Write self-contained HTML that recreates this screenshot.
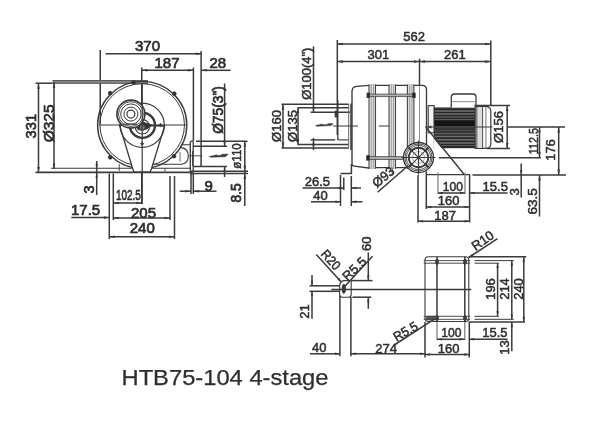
<!DOCTYPE html>
<html><head><meta charset="utf-8"><title>HTB75-104 4-stage</title>
<style>
html,body{margin:0;padding:0;background:#fff;}
body{width:600px;height:425px;overflow:hidden;}
svg{display:block;}
svg line,svg path,svg circle,svg ellipse,svg rect{stroke:#3a3a3a;}
svg text{font-family:"Liberation Sans",sans-serif;fill:#2e2e2e;stroke:#2e2e2e;stroke-width:0.7;}
</style></head>
<body>
<svg width="600" height="425" viewBox="0 0 600 425">
<defs><filter id="soft" x="-2%" y="-2%" width="104%" height="104%"><feGaussianBlur stdDeviation="0.7"/></filter></defs>
<rect x="0" y="0" width="600" height="425" fill="#fff" stroke="none" style="stroke:none"/>
<g filter="url(#soft)" stroke-linecap="butt">
<line x1="100.25" y1="50" x2="100.25" y2="124" stroke-width="1.5"/>
<line x1="105.6" y1="53.75" x2="201.3" y2="53.75" stroke-width="1.5"/>
<polygon points="201.30,53.75 195.80,55.05 195.80,52.45" fill="#3a3a3a" stroke="none"/>
<line x1="201.1" y1="51" x2="201.1" y2="166.4" stroke-width="1.5"/>
<text transform="translate(135,50.7)" font-size="15" text-anchor="start">370</text>
<line x1="141.75" y1="67.5" x2="141.75" y2="204" stroke-width="1.5"/>
<line x1="141.75" y1="70.3" x2="193.4" y2="70.3" stroke-width="1.5"/>
<polygon points="141.75,70.30 147.25,69.00 147.25,71.60" fill="#3a3a3a" stroke="none"/>
<polygon points="193.40,70.30 187.90,71.60 187.90,69.00" fill="#3a3a3a" stroke="none"/>
<line x1="193.4" y1="67.5" x2="193.4" y2="141" stroke-width="1.5"/>
<text transform="translate(154.5,68)" font-size="15" text-anchor="start">187</text>
<line x1="201.3" y1="70.3" x2="230.6" y2="70.3" stroke-width="1.5"/>
<polygon points="201.30,70.30 206.80,69.00 206.80,71.60" fill="#3a3a3a" stroke="none"/>
<text transform="translate(209.5,67.5)" font-size="15" text-anchor="start">28</text>
<line x1="52.5" y1="81.9" x2="148" y2="81.9" stroke-width="2.6" style="stroke:#8c8c8c"/>
<line x1="52.5" y1="80.6" x2="148" y2="80.6" stroke-width="0.9" style="stroke:#444"/>
<line x1="52.5" y1="83.3" x2="148" y2="83.3" stroke-width="0.9" style="stroke:#444"/>
<line x1="35.5" y1="83.2" x2="52.5" y2="83.2" stroke-width="1.5"/>
<line x1="38.5" y1="83.2" x2="38.5" y2="172.5" stroke-width="1.5"/>
<polygon points="38.50,83.20 39.80,88.70 37.20,88.70" fill="#3a3a3a" stroke="none"/>
<polygon points="38.50,172.50 37.20,167.00 39.80,167.00" fill="#3a3a3a" stroke="none"/>
<line x1="54" y1="82" x2="54" y2="169" stroke-width="1.5"/>
<polygon points="54.00,82.50 55.30,88.00 52.70,88.00" fill="#3a3a3a" stroke="none"/>
<polygon points="54.00,169.00 52.70,163.50 55.30,163.50" fill="#3a3a3a" stroke="none"/>
<text transform="translate(35.6,126.2) rotate(-90) scale(0.95,1)" font-size="15.5" text-anchor="middle">331</text>
<text transform="translate(54,123.4) rotate(-90)" font-size="15.5" text-anchor="middle">Ø325</text>
<line x1="51" y1="168.3" x2="190" y2="168.3" stroke-width="1.1"/>
<line x1="35.5" y1="172.4" x2="190" y2="172.4" stroke-width="1.6"/>
<ellipse cx="142.2" cy="124.9" rx="44.6" ry="43.5" stroke-width="1.4" fill="none"/>
<ellipse cx="142.2" cy="124.9" rx="42.3" ry="41.2" stroke-width="1.0" fill="none"/>
<circle cx="110.2" cy="93.2" r="1.9" stroke-width="0.8" fill="#333"/>
<circle cx="174.3" cy="93.7" r="1.9" stroke-width="0.8" fill="#333"/>
<circle cx="110.2" cy="157.3" r="1.9" stroke-width="0.8" fill="#333"/>
<circle cx="174" cy="156.2" r="1.9" stroke-width="0.8" fill="#333"/>
<circle cx="133.5" cy="82.5" r="1.9" stroke-width="0.8" fill="#333"/>
<path d="M119.5,125 L132.7,168.7 L134,172 L150,172 L151.5,168.7 L164.6,126 Z" stroke-width="1.3" fill="#fff"/>
<line x1="98.5" y1="125" x2="186" y2="125" stroke-width="1.2"/>
<circle cx="142.2" cy="125.3" r="22.1" stroke-width="1.2" fill="none"/>
<circle cx="142.4" cy="125.3" r="12.6" stroke-width="2.4" fill="none"/>
<circle cx="142.4" cy="126.8" r="7.2" stroke-width="1.1" fill="none"/>
<path d="M135.5,126.5 L141,121.5 L152.3,125 L146,129.5 L138.5,130 Z" stroke-width="0.8" fill="#333"/>
<circle cx="142.3" cy="127.5" r="3.0" stroke-width="0.9" fill="#777"/>
<path d="M160.5,123.3 L162.2,125 L160.5,126.7 L158.8,125 Z" stroke-width="0.6" fill="#3a3a3a"/>
<path d="M142.2,142 L143.9,143.7 L142.2,145.4 L140.5,143.7 Z" stroke-width="0.6" fill="#3a3a3a"/>
<circle cx="130.9" cy="114.1" r="14.0" stroke-width="1.6" fill="#fff"/>
<circle cx="130.9" cy="114.1" r="12.4" stroke-width="0.9" fill="none"/>
<circle cx="130.9" cy="114.1" r="10.2" stroke-width="1.0" fill="none"/>
<circle cx="130.9" cy="114.1" r="7.0" stroke-width="1.0" fill="none"/>
<circle cx="130.9" cy="114.1" r="4.0" stroke-width="1.2" fill="none"/>
<line x1="123" y1="124.3" x2="137" y2="124.3" stroke-width="1.6" style="stroke:#555"/>
<line x1="142.2" y1="84" x2="142.2" y2="204" stroke-width="1.2"/>
<path d="M153.5,164.3 L182,164.2 C186.5,163.5 188.4,159.5 188.3,155.5 C188.1,151 185.5,148 181.2,147.6 M182.4,144.7 L190.3,144.7" stroke-width="1.1" fill="none"/>
<line x1="180" y1="151.8" x2="180" y2="161.8" stroke-width="1.2" style="stroke:#888"/>
<rect x="190.3" y="141.2" width="2.9" height="31.2" rx="1.2" stroke-width="1.3" fill="none"/>
<line x1="196" y1="141.2" x2="247.5" y2="141.2" stroke-width="1.5"/>
<line x1="193.3" y1="146.2" x2="227" y2="146.2" stroke-width="1.5"/>
<line x1="193.3" y1="166.4" x2="227" y2="166.4" stroke-width="1.5"/>
<line x1="190" y1="171.3" x2="248" y2="171.3" stroke-width="1.6"/>
<line x1="190" y1="173.5" x2="248" y2="173.5" stroke-width="1.5"/>
<line x1="224.6" y1="83.5" x2="224.6" y2="146.2" stroke-width="1.5"/>
<polygon points="224.60,146.20 223.30,140.70 225.90,140.70" fill="#3a3a3a" stroke="none"/>
<line x1="224.6" y1="166.4" x2="224.6" y2="177" stroke-width="1.5"/>
<polygon points="224.60,166.40 225.90,171.90 223.30,171.90" fill="#3a3a3a" stroke="none"/>
<text transform="translate(222.7,110) rotate(-90) scale(0.95,1)" font-size="14.5" text-anchor="middle">Ø75(3&quot;)</text>
<line x1="244.8" y1="141.2" x2="244.8" y2="206" stroke-width="1.5"/>
<polygon points="244.80,141.20 246.10,146.70 243.50,146.70" fill="#3a3a3a" stroke="none"/>
<polygon points="244.80,171.30 243.50,165.80 246.10,165.80" fill="#3a3a3a" stroke="none"/>
<polygon points="244.80,173.40 246.10,178.90 243.50,178.90" fill="#3a3a3a" stroke="none"/>
<text transform="translate(241.3,156) rotate(-90) scale(0.86,1)" font-size="13.5" text-anchor="middle" style="stroke-width:0.5">ø110</text>
<text transform="translate(240.5,193) rotate(-90) scale(0.95,1)" font-size="14.5" text-anchor="middle">8.5</text>
<line x1="192.5" y1="151" x2="192.5" y2="166" stroke-width="0.9"/>
<line x1="189.5" y1="155.8" x2="202.2" y2="155.8" stroke-width="0.9"/>
<path d="M209.2,156.6 L214,155.6 L216.5,154.7 L217.5,155.6 L221,155.2 L222,154.3 L228.3,154.1 L225.5,156.7 L211,157.3 Z" stroke-width="0.5" fill="#3a3a3a"/>
<line x1="191" y1="173" x2="191" y2="194" stroke-width="1.5"/>
<line x1="193.3" y1="173" x2="193.3" y2="194" stroke-width="1.5"/>
<line x1="179.7" y1="191.2" x2="191" y2="191.2" stroke-width="1.5"/>
<polygon points="191.00,191.20 185.50,192.50 185.50,189.90" fill="#3a3a3a" stroke="none"/>
<line x1="193.3" y1="191.2" x2="216.5" y2="191.2" stroke-width="1.5"/>
<polygon points="193.30,191.20 198.80,189.90 198.80,192.50" fill="#3a3a3a" stroke="none"/>
<text transform="translate(204.5,190.5)" font-size="15" text-anchor="start">9</text>
<line x1="96.7" y1="161" x2="96.7" y2="195" stroke-width="1.5"/>
<polygon points="96.70,169.00 95.50,164.00 97.90,164.00" fill="#3a3a3a" stroke="none"/>
<polygon points="96.70,172.50 97.90,177.50 95.50,177.50" fill="#3a3a3a" stroke="none"/>
<text transform="translate(94.3,189.5) rotate(-90)" font-size="14.5" text-anchor="middle">3</text>
<line x1="109.3" y1="173.5" x2="109.3" y2="239" stroke-width="1.5"/>
<line x1="113.3" y1="173.5" x2="113.3" y2="220" stroke-width="1.5"/>
<line x1="170" y1="176" x2="170" y2="220" stroke-width="1.5"/>
<line x1="174.5" y1="176" x2="174.5" y2="239" stroke-width="1.5"/>
<line x1="113.3" y1="203" x2="142.3" y2="203" stroke-width="1.5"/>
<polygon points="113.30,203.00 118.80,201.70 118.80,204.30" fill="#3a3a3a" stroke="none"/>
<polygon points="141.75,203.00 136.25,204.30 136.25,201.70" fill="#3a3a3a" stroke="none"/>
<text transform="translate(116,200) scale(0.66,1)" font-size="15" text-anchor="start">102.5</text>
<line x1="71.3" y1="217.6" x2="109.3" y2="217.6" stroke-width="1.5"/>
<polygon points="109.30,217.60 103.80,218.90 103.80,216.30" fill="#3a3a3a" stroke="none"/>
<text transform="translate(71,215)" font-size="15" text-anchor="start">17.5</text>
<line x1="113.3" y1="218" x2="170" y2="218" stroke-width="1.5"/>
<polygon points="113.30,218.00 118.80,216.70 118.80,219.30" fill="#3a3a3a" stroke="none"/>
<polygon points="170.00,218.00 164.50,219.30 164.50,216.70" fill="#3a3a3a" stroke="none"/>
<text transform="translate(131,217.5)" font-size="15" text-anchor="start">205</text>
<line x1="109.3" y1="236.8" x2="174.5" y2="236.8" stroke-width="1.5"/>
<polygon points="109.30,236.80 114.80,235.50 114.80,238.10" fill="#3a3a3a" stroke="none"/>
<polygon points="174.50,236.80 169.00,238.10 169.00,235.50" fill="#3a3a3a" stroke="none"/>
<text transform="translate(129.7,233.3)" font-size="15" text-anchor="start">240</text>
<line x1="119.2" y1="164" x2="119.2" y2="171" stroke-width="0.9"/>
<line x1="165" y1="168" x2="165" y2="172" stroke-width="0.9"/>
<line x1="337.3" y1="40" x2="337.3" y2="135" stroke-width="1.5"/>
<line x1="337.3" y1="44" x2="490.7" y2="44" stroke-width="1.5"/>
<polygon points="337.30,44.00 342.80,42.70 342.80,45.30" fill="#3a3a3a" stroke="none"/>
<polygon points="490.70,44.00 485.20,45.30 485.20,42.70" fill="#3a3a3a" stroke="none"/>
<line x1="490.8" y1="40.5" x2="490.8" y2="106" stroke-width="1.5"/>
<text transform="translate(403.3,41.3)" font-size="13" text-anchor="start" style="stroke-width:0.5">562</text>
<line x1="337.3" y1="61.6" x2="490.7" y2="61.6" stroke-width="1.5"/>
<polygon points="337.30,61.60 342.80,60.30 342.80,62.90" fill="#3a3a3a" stroke="none"/>
<polygon points="490.70,61.60 485.20,62.90 485.20,60.30" fill="#3a3a3a" stroke="none"/>
<polygon points="419.50,61.60 414.00,62.90 414.00,60.30" fill="#3a3a3a" stroke="none"/>
<polygon points="419.50,61.60 425.00,60.30 425.00,62.90" fill="#3a3a3a" stroke="none"/>
<line x1="419.5" y1="58.7" x2="419.5" y2="85.5" stroke-width="1.5"/>
<text transform="translate(367.5,58.8)" font-size="13" text-anchor="start" style="stroke-width:0.5">301</text>
<text transform="translate(444,59.3)" font-size="13" text-anchor="start" style="stroke-width:0.5">261</text>
<line x1="281.5" y1="104.2" x2="348.7" y2="104.2" stroke-width="1.5"/>
<line x1="297.5" y1="107.7" x2="348.7" y2="107.7" stroke-width="1.5"/>
<line x1="310.6" y1="112.2" x2="350" y2="112.2" stroke-width="1.4"/>
<line x1="310.6" y1="139.9" x2="335.3" y2="139.9" stroke-width="1.4"/>
<line x1="338" y1="139.9" x2="348.7" y2="139.9" stroke-width="1.1"/>
<line x1="297.5" y1="144.4" x2="348.7" y2="144.4" stroke-width="1.5"/>
<line x1="281.5" y1="147.9" x2="348.7" y2="147.9" stroke-width="1.5"/>
<line x1="283" y1="104.2" x2="283" y2="147.9" stroke-width="1.5"/>
<polygon points="283.00,104.20 284.30,109.70 281.70,109.70" fill="#3a3a3a" stroke="none"/>
<polygon points="283.00,147.90 281.70,142.40 284.30,142.40" fill="#3a3a3a" stroke="none"/>
<line x1="298" y1="107.7" x2="298" y2="144.4" stroke-width="1.5"/>
<polygon points="298.00,107.70 299.30,113.20 296.70,113.20" fill="#3a3a3a" stroke="none"/>
<polygon points="298.00,144.40 296.70,138.90 299.30,138.90" fill="#3a3a3a" stroke="none"/>
<text transform="translate(281,126) rotate(-90)" font-size="13" text-anchor="middle" style="stroke-width:0.5">Ø160</text>
<text transform="translate(296.7,126) rotate(-90)" font-size="13" text-anchor="middle" style="stroke-width:0.5">Ø135</text>
<line x1="313.5" y1="46.3" x2="313.5" y2="112.5" stroke-width="1.5"/>
<polygon points="313.50,112.20 312.20,106.70 314.80,106.70" fill="#3a3a3a" stroke="none"/>
<line x1="313.5" y1="138" x2="313.5" y2="150" stroke-width="1.5"/>
<polygon points="313.50,139.90 314.80,145.40 312.20,145.40" fill="#3a3a3a" stroke="none"/>
<text transform="translate(311.3,73.7) rotate(-90)" font-size="13" text-anchor="middle" style="stroke-width:0.5">Ø100(4&quot;)</text>
<line x1="348.7" y1="104.2" x2="348.7" y2="148" stroke-width="1.0" style="stroke:#666"/>
<line x1="351" y1="103.6" x2="351" y2="150" stroke-width="1.5"/>
<line x1="337.8" y1="100" x2="337.8" y2="139.9" stroke-width="1.3"/>
<rect x="335" y="111" width="2.4" height="6" rx="0" stroke-width="0.6" fill="#3a3a3a"/>
<path d="M315.5,125.6 L320,124.6 L322,123.9 L323,124.8 L327,124.4 L329,123.4 L333.2,123.8 L331,125.6 L317,126.3 Z" stroke-width="0.5" fill="#3a3a3a"/>
<line x1="333" y1="126" x2="358" y2="126" stroke-width="1.0"/>
<line x1="378.7" y1="126" x2="392.5" y2="126" stroke-width="1.0"/>
<path d="M408,167.6 L376,167.6 L368.5,168 L354.2,166.2 Q352,166 352,164 L352,91.5 Q352,86.6 356.6,86.3 L369,85.3 L422,85.3 Q426.5,85.3 426.5,90 L426.5,144" stroke-width="1.35" fill="none"/>
<rect x="369.3" y="84.4" width="6.2" height="84.4" fill="#dcdcdc" style="stroke:none"/>
<line x1="369.0" y1="84.4" x2="369.0" y2="168.8" stroke-width="1.1" style="stroke:#444"/>
<line x1="371.3" y1="84.4" x2="371.3" y2="168.8" stroke-width="0.7" style="stroke:#888"/>
<line x1="375.5" y1="84.4" x2="375.5" y2="168.8" stroke-width="1.1" style="stroke:#444"/>
<line x1="373.5" y1="84.4" x2="373.5" y2="168.8" stroke-width="0.7" style="stroke:#888"/>
<rect x="389.3" y="84.4" width="6.2" height="84.4" fill="#dcdcdc" style="stroke:none"/>
<line x1="389.0" y1="84.4" x2="389.0" y2="168.8" stroke-width="1.1" style="stroke:#444"/>
<line x1="391.3" y1="84.4" x2="391.3" y2="168.8" stroke-width="0.7" style="stroke:#888"/>
<line x1="395.5" y1="84.4" x2="395.5" y2="168.8" stroke-width="1.1" style="stroke:#444"/>
<line x1="393.5" y1="84.4" x2="393.5" y2="168.8" stroke-width="0.7" style="stroke:#888"/>
<rect x="407.7" y="84.4" width="6.2" height="84.4" fill="#dcdcdc" style="stroke:none"/>
<line x1="407.4" y1="84.4" x2="407.4" y2="168.8" stroke-width="1.1" style="stroke:#444"/>
<line x1="409.7" y1="84.4" x2="409.7" y2="168.8" stroke-width="0.7" style="stroke:#888"/>
<line x1="413.9" y1="84.4" x2="413.9" y2="168.8" stroke-width="1.1" style="stroke:#444"/>
<line x1="411.9" y1="84.4" x2="411.9" y2="168.8" stroke-width="0.7" style="stroke:#888"/>
<line x1="369" y1="95.3" x2="414" y2="95.3" stroke-width="2.2" style="stroke:#b0b0b0"/>
<line x1="369" y1="94.1" x2="414" y2="94.1" stroke-width="0.8" style="stroke:#444"/>
<line x1="369" y1="96.6" x2="414" y2="96.6" stroke-width="0.8" style="stroke:#444"/>
<line x1="369" y1="158" x2="405" y2="158" stroke-width="2.4" style="stroke:#b0b0b0"/>
<line x1="369" y1="156.6" x2="405" y2="156.6" stroke-width="0.8" style="stroke:#444"/>
<line x1="369" y1="159.5" x2="405" y2="159.5" stroke-width="0.8" style="stroke:#444"/>
<rect x="367" y="93" width="2.6" height="4.6" rx="0" stroke-width="0.8" fill="#222"/>
<rect x="366.7" y="155.6" width="2.6" height="4.6" rx="0" stroke-width="0.8" fill="#222"/>
<rect x="412.6" y="93" width="2.6" height="4.6" rx="0" stroke-width="0.8" fill="#222"/>
<line x1="419.5" y1="85.5" x2="419.5" y2="143" stroke-width="0.9" style="stroke:#888"/>
<path d="M351.4,164 L351.4,173.5 L340.5,173.5" stroke-width="1.5" fill="none"/>
<line x1="392.2" y1="167.5" x2="392.2" y2="175" stroke-width="0.9"/>
<line x1="340.5" y1="175" x2="340.5" y2="206" stroke-width="1.5"/>
<line x1="343.8" y1="177.5" x2="343.8" y2="190" stroke-width="1.5"/>
<line x1="351.3" y1="176" x2="351.3" y2="206" stroke-width="1.5"/>
<line x1="302.5" y1="188" x2="343.8" y2="188" stroke-width="1.5"/>
<polygon points="343.80,188.00 338.80,189.20 338.80,186.80" fill="#3a3a3a" stroke="none"/>
<line x1="351.3" y1="188" x2="361" y2="188" stroke-width="1.5"/>
<polygon points="351.30,188.00 356.30,186.80 356.30,189.20" fill="#3a3a3a" stroke="none"/>
<text transform="translate(304.7,185.6)" font-size="13" text-anchor="start" style="stroke-width:0.5">26.5</text>
<line x1="311" y1="201.8" x2="340.5" y2="201.8" stroke-width="1.5"/>
<polygon points="340.50,201.80 335.50,203.00 335.50,200.60" fill="#3a3a3a" stroke="none"/>
<line x1="351.3" y1="201.8" x2="362.5" y2="201.8" stroke-width="1.5"/>
<polygon points="351.30,201.80 356.30,200.60 356.30,203.00" fill="#3a3a3a" stroke="none"/>
<text transform="translate(313.3,200.2)" font-size="13" text-anchor="start" style="stroke-width:0.5">40</text>
<circle cx="418.5" cy="157.5" r="15" fill="#fff" style="stroke:#333" stroke-width="1.3"/>
<circle cx="418.5" cy="157.5" r="13.6" fill="none" style="stroke:#555" stroke-width="1.0"/>
<circle cx="418.5" cy="157.5" r="12.2" fill="none" style="stroke:#555" stroke-width="1.0"/>
<circle cx="418.5" cy="157.5" r="9.75" stroke-width="1.8" fill="none"/>
<circle cx="418.5" cy="157.5" r="6" fill="none" style="stroke:#999" stroke-width="0.8"/>
<line x1="401.5" y1="157.5" x2="435.5" y2="157.5" stroke-width="1.1"/>
<line x1="418.5" y1="140.5" x2="418.5" y2="174.5" stroke-width="1.1"/>
<line x1="419.21" y1="158.21" x2="425.57" y2="164.57" stroke-width="1.1"/>
<line x1="425.57" y1="164.57" x2="428.54" y2="167.54" stroke-width="2.0"/>
<line x1="417.79" y1="158.21" x2="411.43" y2="164.57" stroke-width="1.1"/>
<line x1="411.43" y1="164.57" x2="408.46" y2="167.54" stroke-width="2.0"/>
<line x1="417.79" y1="156.79" x2="411.43" y2="150.43" stroke-width="1.1"/>
<line x1="411.43" y1="150.43" x2="408.46" y2="147.46" stroke-width="2.0"/>
<line x1="419.21" y1="156.79" x2="425.57" y2="150.43" stroke-width="1.1"/>
<line x1="425.57" y1="150.43" x2="428.54" y2="147.46" stroke-width="2.0"/>
<circle cx="418.5" cy="157.5" r="1.4" stroke-width="0.8" fill="#3a3a3a"/>
<line x1="377.6" y1="192.3" x2="408" y2="165.7" stroke-width="1.5"/>
<text transform="translate(376.8,188.3) rotate(-40)" font-size="13" text-anchor="start" style="stroke-width:0.5">Ø93</text>
<rect x="428.2" y="105.6" width="6" height="27.2" rx="0" stroke-width="1.1" fill="#f2f2f2"/>
<rect x="434.3" y="108" width="40.7" height="39.6" fill="#707070" stroke="#3a3a3a" stroke-width="1.2"/>
<line x1="434.5" y1="109.4" x2="475" y2="109.4" stroke-width="1.7" style="stroke:#262626"/>
<line x1="434.5" y1="112.5" x2="475" y2="112.5" stroke-width="1.7" style="stroke:#262626"/>
<line x1="434.5" y1="115.6" x2="475" y2="115.6" stroke-width="1.7" style="stroke:#262626"/>
<line x1="434.5" y1="118.4" x2="475" y2="118.4" stroke-width="1.7" style="stroke:#262626"/>
<line x1="434.5" y1="135" x2="475" y2="135" stroke-width="1.7" style="stroke:#262626"/>
<line x1="434.5" y1="138.2" x2="475" y2="138.2" stroke-width="1.7" style="stroke:#262626"/>
<line x1="434.5" y1="141.4" x2="475" y2="141.4" stroke-width="1.7" style="stroke:#262626"/>
<line x1="434.5" y1="144.5" x2="475" y2="144.5" stroke-width="1.7" style="stroke:#262626"/>
<line x1="434.5" y1="146.8" x2="475" y2="146.8" stroke-width="1.7" style="stroke:#262626"/>
<rect x="434.5" y="120.2" width="40.5" height="6" fill="#161616" style="stroke:none"/>
<rect x="434.5" y="126.2" width="40.5" height="7.2" fill="#4a4a4a" style="stroke:none"/>
<line x1="434.5" y1="129" x2="475" y2="129" stroke-width="1.2" style="stroke:#222"/>
<line x1="434.5" y1="132" x2="475" y2="132" stroke-width="1.2" style="stroke:#222"/>
<path d="M451.3,107.5 L451.3,97.3 Q451.3,94 454.5,94 L472.8,94 Q476,94 476,97.3 L476,107.5" stroke-width="1.3" fill="#fff"/>
<line x1="451.3" y1="101.7" x2="476" y2="101.7" stroke-width="1.0" style="stroke:#888"/>
<path d="M475.2,106.4 L486,106.4 Q490.8,107 490.8,111 L490.8,144 Q490.8,148 486,148.4 L475.2,148.4 Z" stroke-width="1.2" fill="#fff"/>
<rect x="476.8" y="107" width="5.8" height="40.8" fill="#ddd" style="stroke:none"/>
<line x1="476.8" y1="106.4" x2="476.8" y2="148.4" stroke-width="0.9"/>
<line x1="482.6" y1="106.4" x2="482.6" y2="148.4" stroke-width="0.9"/>
<line x1="485.9" y1="106.4" x2="485.9" y2="148.4" stroke-width="0.9" style="stroke:#666"/>
<line x1="474.5" y1="105.6" x2="510" y2="105.6" stroke-width="1.5"/>
<line x1="487" y1="148.5" x2="510" y2="148.5" stroke-width="1.5"/>
<line x1="507.2" y1="105.6" x2="507.2" y2="148.5" stroke-width="1.5"/>
<polygon points="507.20,105.60 508.50,111.10 505.90,111.10" fill="#3a3a3a" stroke="none"/>
<polygon points="507.20,148.50 505.90,143.00 508.50,143.00" fill="#3a3a3a" stroke="none"/>
<text transform="translate(503.2,127) rotate(-90)" font-size="13" text-anchor="middle" style="stroke-width:0.5">Ø156</text>
<line x1="425" y1="127" x2="492.5" y2="127" stroke-width="1.0"/>
<line x1="507.2" y1="127" x2="565" y2="127" stroke-width="1.5"/>
<polygon points="427.50,127.00 431.50,125.50 431.50,128.50" fill="#3a3a3a" stroke="none"/>
<polygon points="433.6,138.2 433.6,149 442.2,149" fill="#fff" style="stroke:none"/>
<line x1="426.8" y1="128.2" x2="463.8" y2="174" stroke-width="1.4"/>
<line x1="427" y1="174.6" x2="470" y2="174.6" stroke-width="1.2"/>
<line x1="472.5" y1="175" x2="566" y2="175" stroke-width="1.4"/>
<line x1="438.8" y1="157.8" x2="541" y2="157.8" stroke-width="1.5"/>
<line x1="539.5" y1="127" x2="539.5" y2="157.8" stroke-width="1.5"/>
<polygon points="539.50,127.00 540.80,132.50 538.20,132.50" fill="#3a3a3a" stroke="none"/>
<polygon points="539.50,157.80 538.20,152.30 540.80,152.30" fill="#3a3a3a" stroke="none"/>
<text transform="translate(537.5,141.2) rotate(-90) scale(0.83,1)" font-size="13" text-anchor="middle" style="stroke-width:0.5">112.5</text>
<line x1="558.7" y1="127" x2="558.7" y2="175" stroke-width="1.5"/>
<polygon points="558.70,127.00 560.00,132.50 557.40,132.50" fill="#3a3a3a" stroke="none"/>
<polygon points="558.70,175.00 557.40,169.50 560.00,169.50" fill="#3a3a3a" stroke="none"/>
<text transform="translate(555.3,150) rotate(-90)" font-size="13" text-anchor="middle" style="stroke-width:0.5">176</text>
<line x1="539.5" y1="175" x2="539.5" y2="216.5" stroke-width="1.5"/>
<polygon points="539.50,175.00 540.80,180.50 538.20,180.50" fill="#3a3a3a" stroke="none"/>
<text transform="translate(536.5,201.4) rotate(-90) scale(1.04,1)" font-size="13" text-anchor="middle" style="stroke-width:0.5">63.5</text>
<line x1="521.2" y1="163.6" x2="521.2" y2="197.5" stroke-width="1.5"/>
<polygon points="521.20,175.00 520.00,170.00 522.40,170.00" fill="#3a3a3a" stroke="none"/>
<text transform="translate(518.8,192) rotate(-90)" font-size="13" text-anchor="middle" style="stroke-width:0.5">3</text>
<line x1="418" y1="175" x2="418" y2="222.5" stroke-width="1.5"/>
<line x1="426.3" y1="171.3" x2="426.3" y2="209" stroke-width="1.5"/>
<line x1="438" y1="172.5" x2="438" y2="193.8" stroke-width="1.2" style="stroke:#777"/>
<line x1="465" y1="172.5" x2="465" y2="193.8" stroke-width="1.2" style="stroke:#777"/>
<line x1="469.6" y1="175" x2="469.6" y2="222.5" stroke-width="1.5"/>
<line x1="438" y1="193" x2="465" y2="193" stroke-width="1.5"/>
<polygon points="438.00,193.00 443.00,191.80 443.00,194.20" fill="#3a3a3a" stroke="none"/>
<polygon points="465.00,193.00 460.00,194.20 460.00,191.80" fill="#3a3a3a" stroke="none"/>
<text transform="translate(442.8,190.6) scale(0.93,1)" font-size="13" text-anchor="start" style="stroke-width:0.5">100</text>
<line x1="469.6" y1="193" x2="507.5" y2="193" stroke-width="1.5"/>
<polygon points="469.60,193.00 474.60,191.80 474.60,194.20" fill="#3a3a3a" stroke="none"/>
<text transform="translate(482.6,190.6)" font-size="13" text-anchor="start" style="stroke-width:0.5">15.5</text>
<line x1="426.3" y1="207" x2="469.6" y2="207" stroke-width="1.5"/>
<polygon points="426.30,207.00 431.30,205.80 431.30,208.20" fill="#3a3a3a" stroke="none"/>
<polygon points="469.60,207.00 464.60,208.20 464.60,205.80" fill="#3a3a3a" stroke="none"/>
<text transform="translate(437.7,205.2)" font-size="13" text-anchor="start" style="stroke-width:0.5">160</text>
<line x1="418" y1="221.3" x2="469.6" y2="221.3" stroke-width="1.5"/>
<polygon points="418.00,221.30 423.00,220.10 423.00,222.50" fill="#3a3a3a" stroke="none"/>
<polygon points="469.60,221.30 464.60,222.50 464.60,220.10" fill="#3a3a3a" stroke="none"/>
<text transform="translate(434.2,220.2)" font-size="13" text-anchor="start" style="stroke-width:0.5">187</text>
<path d="M425,260 Q425,256.8 428.2,256.8 L465.5,256.8 Q468.8,256.8 468.8,260 L468.8,318.5 Q468.8,321.5 465.5,321.5 L428.2,321.5 Q425,321.5 425,318.5 Z" stroke-width="1.1" fill="none"/>
<line x1="468.8" y1="256.8" x2="526.3" y2="256.8" stroke-width="1.5"/>
<line x1="423.7" y1="260.6" x2="470" y2="260.6" stroke-width="0.9"/>
<line x1="423.7" y1="263.2" x2="470" y2="263.2" stroke-width="0.9"/>
<line x1="474.5" y1="260.6" x2="513.8" y2="260.6" stroke-width="1.0"/>
<line x1="474.5" y1="263.2" x2="498.8" y2="263.2" stroke-width="1.0"/>
<line x1="423.7" y1="316.3" x2="470" y2="316.3" stroke-width="0.9"/>
<line x1="423.7" y1="319.3" x2="470" y2="319.3" stroke-width="0.9"/>
<line x1="474.5" y1="316.3" x2="498.8" y2="316.3" stroke-width="1.0"/>
<line x1="474.5" y1="319.3" x2="513.8" y2="319.3" stroke-width="1.0"/>
<line x1="468.8" y1="322" x2="525" y2="322" stroke-width="1.5"/>
<line x1="437" y1="256.8" x2="437" y2="322" stroke-width="1.5"/>
<line x1="464.8" y1="256.8" x2="464.8" y2="322" stroke-width="1.5"/>
<line x1="437" y1="322" x2="437" y2="340" stroke-width="1.2" style="stroke:#777"/>
<line x1="464.8" y1="322" x2="464.8" y2="340" stroke-width="1.2" style="stroke:#777"/>
<ellipse cx="437" cy="261.8" rx="1.5" ry="2.7" stroke-width="0.8" fill="#3a3a3a"/>
<ellipse cx="465" cy="261.8" rx="1.5" ry="2.7" stroke-width="0.8" fill="#3a3a3a"/>
<ellipse cx="437" cy="318" rx="1.5" ry="2.7" stroke-width="0.8" fill="#3a3a3a"/>
<ellipse cx="465" cy="318" rx="1.5" ry="2.7" stroke-width="0.8" fill="#3a3a3a"/>
<rect x="426.3" y="316.3" width="10.5" height="3.6" rx="1.6" stroke-width="0.8" fill="#555"/>
<line x1="331.3" y1="289.6" x2="471.3" y2="289.6" stroke-width="1.5"/>
<text transform="translate(495,289) rotate(-90)" font-size="13" text-anchor="middle" style="stroke-width:0.5">196</text>
<line x1="497.6" y1="263" x2="497.6" y2="316.3" stroke-width="1.5"/>
<polygon points="497.60,263.00 498.80,268.00 496.40,268.00" fill="#3a3a3a" stroke="none"/>
<polygon points="497.60,316.30 496.40,311.30 498.80,311.30" fill="#3a3a3a" stroke="none"/>
<text transform="translate(509.2,289) rotate(-90)" font-size="13" text-anchor="middle" style="stroke-width:0.5">214</text>
<line x1="511.8" y1="260.8" x2="511.8" y2="319.5" stroke-width="1.5"/>
<polygon points="511.80,260.80 513.00,265.80 510.60,265.80" fill="#3a3a3a" stroke="none"/>
<polygon points="511.80,319.50 510.60,314.50 513.00,314.50" fill="#3a3a3a" stroke="none"/>
<text transform="translate(522.5,289) rotate(-90)" font-size="13" text-anchor="middle" style="stroke-width:0.5">240</text>
<line x1="523.8" y1="256.8" x2="523.8" y2="322" stroke-width="1.5"/>
<polygon points="523.80,256.80 525.00,261.80 522.60,261.80" fill="#3a3a3a" stroke="none"/>
<polygon points="523.80,322.00 522.60,317.00 525.00,317.00" fill="#3a3a3a" stroke="none"/>
<line x1="468.8" y1="257.5" x2="497.5" y2="238.7" stroke-width="1.5"/>
<polygon points="468.80,257.50 471.87,253.96 473.28,256.14" fill="#3a3a3a" stroke="none"/>
<text transform="translate(475.5,251) rotate(-35)" font-size="13" text-anchor="start" style="stroke-width:0.5">R10</text>
<path d="M339.7,297 L339.7,286 Q339.7,280.6 345,280.6 L351.2,280.6 L351.2,294.5 Q351.2,297.3 348.2,297.3 L342.7,297.3 Q339.7,297.3 339.7,294.5" stroke-width="1.1" fill="none"/>
<ellipse cx="343.8" cy="288.8" rx="1.7" ry="4.6" stroke-width="0.9" fill="#3a3a3a"/>
<line x1="339.9" y1="297" x2="339.9" y2="356.3" stroke-width="1.5"/>
<line x1="350.9" y1="297" x2="350.9" y2="356.3" stroke-width="1.5"/>
<line x1="351.2" y1="280.6" x2="372.5" y2="280.6" stroke-width="1.5"/>
<line x1="352.5" y1="297.2" x2="371.3" y2="297.2" stroke-width="1.5"/>
<line x1="368.3" y1="252.5" x2="368.3" y2="280.6" stroke-width="1.5"/>
<polygon points="368.30,280.60 367.10,275.60 369.50,275.60" fill="#3a3a3a" stroke="none"/>
<line x1="368.3" y1="297.2" x2="368.3" y2="308.8" stroke-width="1.5"/>
<polygon points="368.30,297.20 369.50,302.20 367.10,302.20" fill="#3a3a3a" stroke="none"/>
<text transform="translate(370.8,243.8) rotate(-90)" font-size="13" text-anchor="middle" style="stroke-width:0.5">60</text>
<line x1="309.5" y1="285.8" x2="340" y2="285.8" stroke-width="1.5"/>
<line x1="309.5" y1="291.3" x2="340" y2="291.3" stroke-width="1.5"/>
<line x1="312" y1="275" x2="312" y2="285.8" stroke-width="1.5"/>
<polygon points="312.00,285.80 310.80,280.80 313.20,280.80" fill="#3a3a3a" stroke="none"/>
<line x1="312" y1="291.3" x2="312" y2="318.8" stroke-width="1.5"/>
<polygon points="312.00,291.30 313.20,296.30 310.80,296.30" fill="#3a3a3a" stroke="none"/>
<text transform="translate(308.6,311.5) rotate(-90)" font-size="13" text-anchor="middle" style="stroke-width:0.5">21</text>
<line x1="316.3" y1="254.5" x2="341.5" y2="282.2" stroke-width="1.5"/>
<polygon points="341.50,282.20 337.51,279.75 339.43,278.00" fill="#3a3a3a" stroke="none"/>
<text transform="translate(320.2,254.6) rotate(48) scale(0.92,1)" font-size="13" text-anchor="start" style="stroke-width:0.5">R20</text>
<line x1="343.8" y1="287.5" x2="372.5" y2="256.3" stroke-width="1.5"/>
<text transform="translate(347.6,281.6) rotate(-44)" font-size="13" text-anchor="start" style="stroke-width:0.5">R5.5</text>
<line x1="310" y1="353.8" x2="340" y2="353.8" stroke-width="1.5"/>
<polygon points="340.00,353.80 335.00,355.00 335.00,352.60" fill="#3a3a3a" stroke="none"/>
<text transform="translate(312,351.5)" font-size="13" text-anchor="start" style="stroke-width:0.5">40</text>
<line x1="350.9" y1="353.8" x2="425" y2="353.8" stroke-width="1.5"/>
<polygon points="350.90,353.80 355.90,352.60 355.90,355.00" fill="#3a3a3a" stroke="none"/>
<polygon points="425.00,353.80 420.00,355.00 420.00,352.60" fill="#3a3a3a" stroke="none"/>
<text transform="translate(375.3,352.5)" font-size="13" text-anchor="start" style="stroke-width:0.5">274</text>
<line x1="395" y1="344.5" x2="435" y2="318.7" stroke-width="1.5"/>
<text transform="translate(396.5,341.8) rotate(-30) scale(0.95,1)" font-size="13" text-anchor="start" style="stroke-width:0.5">R5.5</text>
<line x1="425" y1="322" x2="425" y2="357.5" stroke-width="1.5"/>
<line x1="469.3" y1="322" x2="469.3" y2="357.5" stroke-width="1.5"/>
<line x1="437" y1="339.3" x2="464.7" y2="339.3" stroke-width="1.5"/>
<polygon points="437.00,339.30 442.00,338.10 442.00,340.50" fill="#3a3a3a" stroke="none"/>
<polygon points="464.70,339.30 459.70,340.50 459.70,338.10" fill="#3a3a3a" stroke="none"/>
<text transform="translate(441.2,336.9) scale(0.93,1)" font-size="13" text-anchor="start" style="stroke-width:0.5">100</text>
<line x1="469.3" y1="339.3" x2="507.5" y2="339.3" stroke-width="1.5"/>
<polygon points="469.30,339.30 474.30,338.10 474.30,340.50" fill="#3a3a3a" stroke="none"/>
<text transform="translate(482.3,336.9)" font-size="13" text-anchor="start" style="stroke-width:0.5">15.5</text>
<line x1="425" y1="354.5" x2="469.3" y2="354.5" stroke-width="1.5"/>
<polygon points="425.00,354.50 430.00,353.30 430.00,355.70" fill="#3a3a3a" stroke="none"/>
<polygon points="469.30,354.50 464.30,355.70 464.30,353.30" fill="#3a3a3a" stroke="none"/>
<text transform="translate(437.7,352.6)" font-size="13" text-anchor="start" style="stroke-width:0.5">160</text>
<line x1="511.8" y1="322" x2="511.8" y2="351.3" stroke-width="1.5"/>
<polygon points="511.80,322.00 513.00,327.00 510.60,327.00" fill="#3a3a3a" stroke="none"/>
<text transform="translate(508.5,347.5) rotate(-90)" font-size="13" text-anchor="middle" style="stroke-width:0.5">13</text>
<text transform="translate(121.5,385)" font-size="21.7" text-anchor="start" textLength="207" lengthAdjust="spacingAndGlyphs" style="stroke-width:0.25">HTB75-104 4-stage</text>
</g>
</svg>
</body></html>
